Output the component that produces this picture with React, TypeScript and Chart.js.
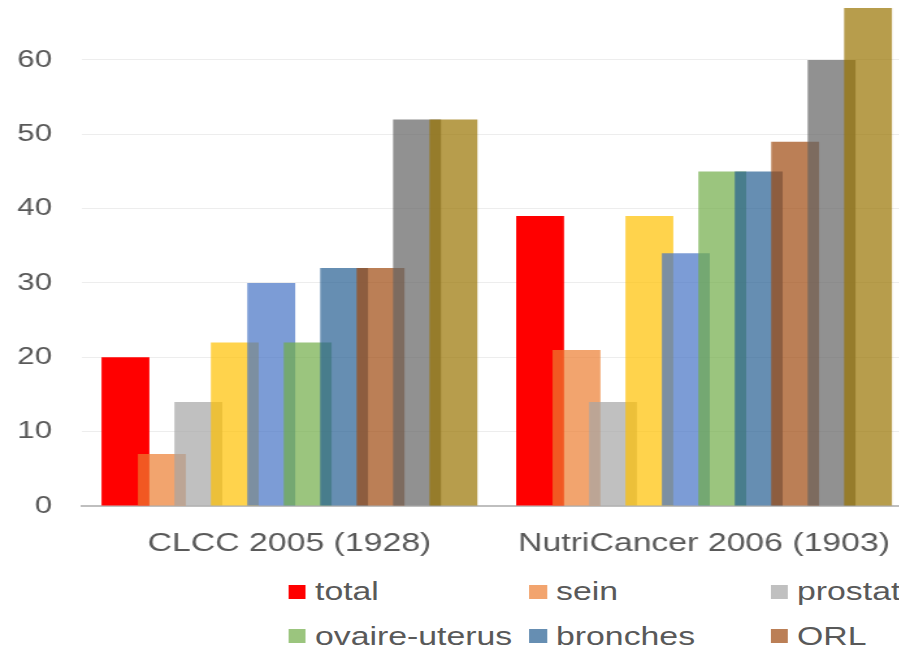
import React, { useEffect, useRef } from "react";
import { Chart, registerables } from "chart.js";

Chart.register(...registerables);

const categories = ["CLCC 2005 (1928)", "NutriCancer 2006 (1903)"];
const seriesNames = [
  "total",
  "sein",
  "prostate",
  "colon-rectum",
  "digestif",
  "ovaire-uterus",
  "bronches",
  "ORL",
  "hémato",
  "autres",
];
const seriesColors = [
  "rgba(255,0,0,1)",
  "rgba(237,125,49,0.7)",
  "rgba(165,165,165,0.7)",
  "rgba(255,192,0,0.7)",
  "rgba(68,114,196,0.7)",
  "rgba(112,173,71,0.7)",
  "rgba(37,94,145,0.7)",
  "rgba(158,72,14,0.7)",
  "rgba(99,99,99,0.7)",
  "rgba(153,115,0,0.7)",
];
const total = [20, 39];
const sein = [7, 21];
const prostate = [14, 14];
const colonRectum = [22, 39];
const digestif = [30, 34];
const ovaireUterus = [22, 45];
const bronches = [32, 45];
const orl = [32, 49];
const hemato = [52, 60];
const autres = [52, 67];
const seriesValues = [total, sein, prostate, colonRectum, digestif, ovaireUterus, bronches, orl, hemato, autres];
const yTicksMax = 70;
const yTicksStep = 10;

const SX = 1.3;
const FONT = "'Liberation Sans', Arial, sans-serif";
const TEXT = "#595959";

const forwardOrder = {
  id: "forwardOrder",
  beforeDatasetsDraw(chart: any) {
    const metas = chart.getSortedVisibleDatasetMetas();
    for (const m of metas) m.controller.draw();
    return false;
  },
};

export default function App() {
  const ref = useRef<HTMLCanvasElement | null>(null);
  useEffect(() => {
    if (!ref.current) return;
    const chart = new Chart(ref.current, {
      type: "bar",
      data: {
        labels: categories,
        datasets: seriesNames.map((name, i) => ({
          label: name,
          data: seriesValues[i],
          backgroundColor: seriesColors[i],
          borderWidth: 0,
          categoryPercentage: 0.879,
          barPercentage: 1.314,
        })),
      },
      options: {
        responsive: false,
        animation: false,
        events: [],
        layout: { padding: { top: 19.7, right: 1.4, bottom: 0, left: 0 } },
        plugins: {
          legend: { display: false },
          tooltip: { enabled: false },
        },
        scales: {
          x: {
            offset: true,
            grid: { display: false, drawTicks: false },
            border: { display: true, color: "#BFBFBF", width: 2 },
            ticks: {
              font: { family: FONT, size: 26 },
              color: TEXT,
              padding: 22,
              maxRotation: 0,
              autoSkip: false,
            },
            afterFit: (s: any) => {
              s.height = 60;
            },
          },
          y: {
            min: 0,
            max: yTicksMax,
            grid: { color: "#EDEDED", lineWidth: 1, drawTicks: false },
            border: { display: false },
            ticks: {
              stepSize: yTicksStep,
              font: { family: FONT, size: 24 },
              color: TEXT,
              padding: 23.2,
            },
            afterFit: (s: any) => {
              s.width = 63.2;
            },
          },
        },
      },
      plugins: [forwardOrder],
    });
    return () => chart.destroy();
  }, []);

  const rows = [seriesNames.slice(0, 5), seriesNames.slice(5, 10)];
  const colorRows = [seriesColors.slice(0, 5), seriesColors.slice(5, 10)];

  return (
    <div
      style={{
        position: "fixed",
        left: 0,
        top: 0,
        width: 899,
        height: 647,
        overflow: "hidden",
        background: "#fff",
      }}
    >
      <canvas
        ref={ref}
        width={707}
        height={618}
        style={{
          position: "absolute",
          left: 0,
          top: -52,
          width: 707,
          height: 618,
          transform: `scaleX(${SX})`,
          transformOrigin: "0 0",
        }}
      />
      <div
        style={{
          position: "absolute",
          left: 0,
          top: 569.7,
          width: 1200,
          transform: `scaleX(${SX})`,
          transformOrigin: "0 0",
          fontFamily: FONT,
          fontSize: 26,
          color: TEXT,
        }}
      >
        {rows.map((row, r) => (
          <div key={r} style={{ position: "relative", height: 44.3 }}>
            {row.map((name, c) => (
              <div
                key={name}
                style={{
                  position: "absolute",
                  left: 221.8 + c * 185.4,
                  top: 0,
                  height: 44.3,
                  display: "flex",
                  alignItems: "center",
                  whiteSpace: "nowrap",
                }}
              >
                <span
                  style={{
                    display: "inline-block",
                    width: 13.5,
                    height: 13.5,
                    background: colorRows[r][c],
                    marginRight: 7,
                  }}
                />
                <span>{name}</span>
              </div>
            ))}
          </div>
        ))}
      </div>
    </div>
  );
}
